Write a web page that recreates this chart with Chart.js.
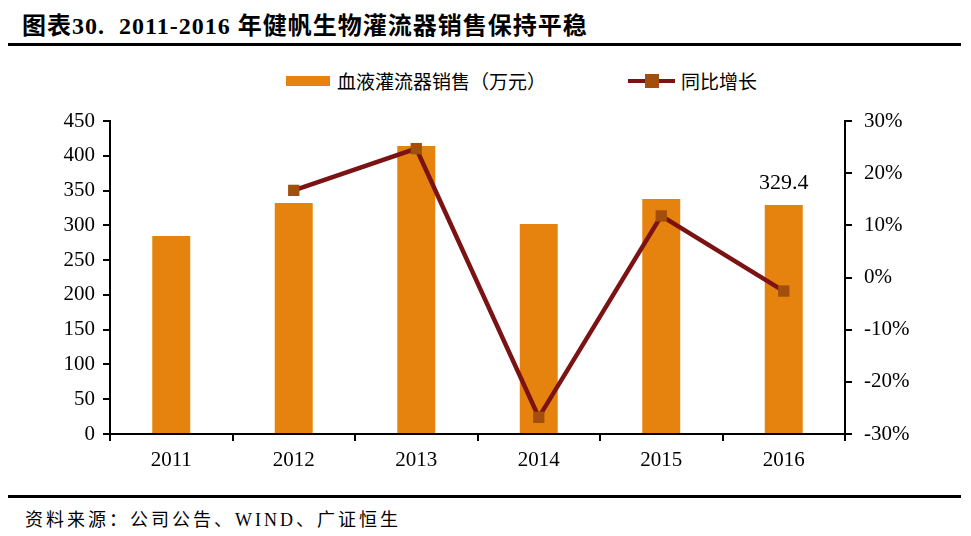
<!DOCTYPE html>
<html lang="zh">
<head>
<meta charset="UTF-8">
<title>健帆生物灌流器销售</title>
<style>
    * { margin: 0; padding: 0; box-sizing: border-box; }
    body {
        width: 971px; height: 536px; background: #fff; position: relative; overflow: hidden;
        font-family: 'Liberation Serif', 'Noto Sans CJK SC', serif; color: #000;
    }
    .title {
        position: absolute; left: 22px; top: 6px;
        font-size: 24px; font-weight: bold; letter-spacing: 1px; white-space: nowrap;
    }
    .rule { position: absolute; left: 8px; width: 953px; height: 3px; background: #000; }
    .source { position: absolute; left: 25px; top: 505px; font-size: 18px; letter-spacing: 3px; white-space: nowrap; }
    .legend { position: absolute; top: 67px; font-size: 19px; display: flex; align-items: center; white-space: nowrap; }
    .swatch-bar { flex: none; width: 44px; height: 10px; background: #E6830F; margin-right: 7px; }
    .swatch-line { flex: none; position: relative; width: 47px; height: 4px; background: #7B1214; margin-right: 6px; }
    .swatch-line span { position: absolute; left: 17px; top: -5px; width: 14px; height: 14px; background: #A24E0C; }
    #wrap { position: absolute; left: 0; top: 50px; width: 971px; height: 440px; }
</style>
</head>
<body>
<div class="title">图表30.&nbsp;&nbsp;2011-2016 年健帆生物灌流器销售保持平稳</div>
<div class="rule" style="top:43px"></div>

<div class="legend" id="legBar" style="left:286px"><div class="swatch-bar"></div><span></span></div>
<div class="legend" id="legLine" style="left:628px"><div class="swatch-line"><span></span></div><span></span></div>

<div id="wrap"><canvas id="chart" width="971" height="440"></canvas></div>

<div class="rule" style="top:495px"></div>
<div class="source">资料来源：公司公告、WIND、广证恒生</div>

<script src="https://cdn.jsdelivr.net/npm/chart.js"></script>
<script>
    // data
    const years = ['2011', '2012', '2013', '2014', '2015', '2016'];
    const sales = [284.6, 332, 414, 302, 338, 329.4];       // 万元
    const growth = [null, 16.7, 24.7, -26.8, 11.8, -2.6];   // %
    const salesLabel = '血液灌流器销售（万元）';
    const growthLabel = '同比增长';

    document.querySelector('#legBar span').textContent = salesLabel;
    document.querySelector('#legLine > span').textContent = growthLabel;

    const tickFont = { family: "'Liberation Serif', serif", size: 21 };

    // value label above the last bar
    const lastLabel = {
        id: 'lastLabel',
        afterDatasetsDraw(chart) {
            const meta = chart.getDatasetMeta(1);
            const bar = meta.data[meta.data.length - 1];
            const ctx = chart.ctx;
            ctx.save();
            ctx.font = "22px 'Liberation Serif', serif";
            ctx.fillStyle = '#000';
            ctx.textAlign = 'center';
            ctx.textBaseline = 'bottom';
            ctx.fillText(sales[sales.length - 1].toFixed(1), bar.x, bar.y - 11);
            ctx.restore();
        }
    };

    new Chart(document.getElementById('chart'), {
        data: {
            labels: years,
            datasets: [
                {
                    type: 'line',
                    label: growthLabel,
                    data: growth,
                    yAxisID: 'y1',
                    borderColor: '#7B1214',
                    borderWidth: 4.5,
                    pointStyle: 'rect',
                    pointRadius: 8,
                    pointBackgroundColor: '#A24E0C',
                    pointBorderColor: '#A24E0C',
                    pointBorderWidth: 0,
                    tension: 0,
                    order: 0
                },
                {
                    type: 'bar',
                    label: salesLabel,
                    data: sales,
                    yAxisID: 'y',
                    backgroundColor: '#E6830F',
                    categoryPercentage: 1,
                    barPercentage: 0.31,
                    order: 1
                }
            ]
        },
        options: {
            responsive: false,
            animation: false,
            maintainAspectRatio: false,
            layout: { padding: { top: 71, left: 0, right: 0, bottom: 0 } },
            plugins: { legend: { display: false }, tooltip: { enabled: false } },
            scales: {
                x: {
                    grid: { offset: true, drawOnChartArea: false, color: '#000', tickLength: 7, lineWidth: 2 },
                    border: { color: '#000', width: 2 },
                    ticks: { color: '#000', font: tickFont, padding: 7 },
                    afterFit(s) { s.height = 56; }
                },
                y: {
                    position: 'left',
                    min: 0, max: 450,
                    ticks: { stepSize: 50, color: '#000', font: tickFont, padding: 8 },
                    grid: { drawOnChartArea: false, color: '#000', tickLength: 7, lineWidth: 2 },
                    border: { color: '#000', width: 2 },
                    afterFit(s) { s.width = 110; }
                },
                y1: {
                    position: 'right',
                    min: -30, max: 30,
                    ticks: { stepSize: 10, color: '#000', font: tickFont, padding: 12,
                             callback: v => v + '%' },
                    grid: { drawOnChartArea: false, color: '#000', tickLength: 7, lineWidth: 2 },
                    border: { color: '#000', width: 2 },
                    afterFit(s) { s.width = 126; }
                }
            }
        },
        plugins: [lastLabel]
    });
</script>
</body>
</html>
